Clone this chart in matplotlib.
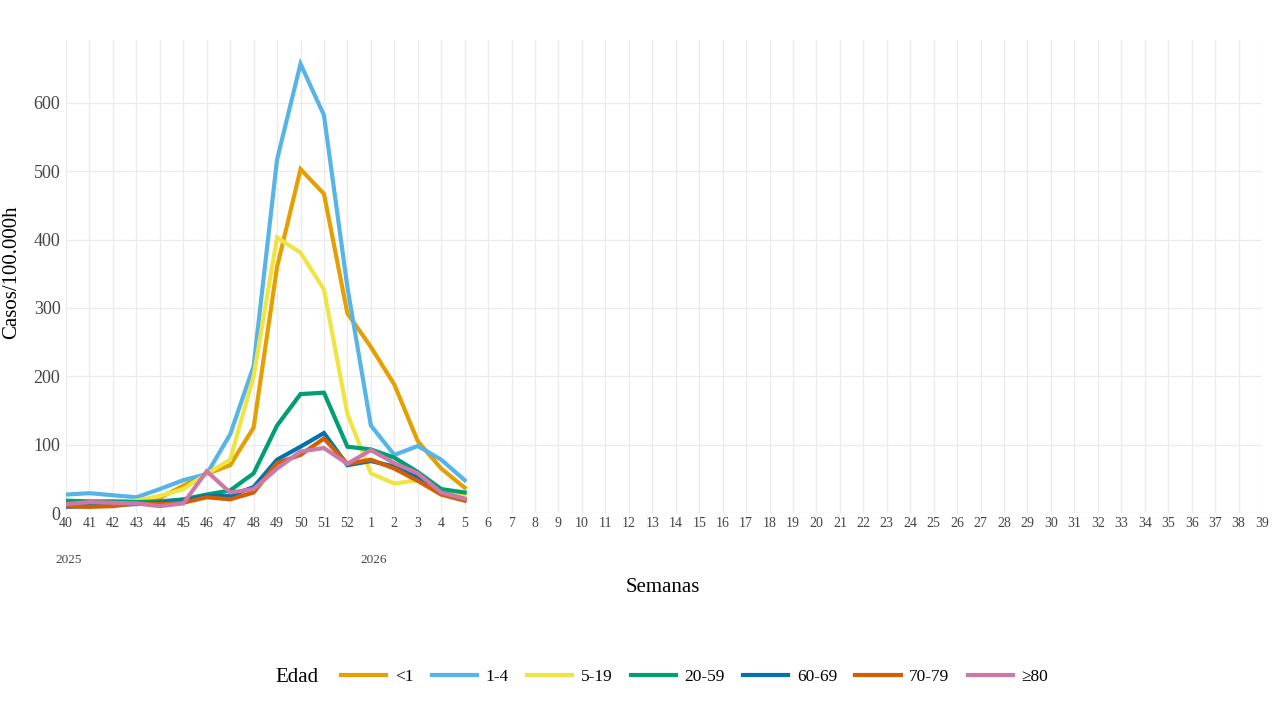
import numpy as np
import matplotlib
matplotlib.use("Agg")
import matplotlib.pyplot as plt
from matplotlib.lines import Line2D
import matplotlib.transforms as mtransforms

plt.rcParams['font.family'] = ['Liberation Serif', 'DejaVu Serif']

weeks = [str(w) for w in list(range(40, 53)) + list(range(1, 40))]
years = {"2025": 0, "2026": 13}

age_groups = ["<1", "1-4", "5-19", "20-59", "60-69", "70-79", "\u226580"]
colors = ["#E69F00", "#56B4E9", "#F0E442", "#009E73", "#0072B2", "#D55E00", "#CC79A7"]

s_lt1   = [15, 13, 15, 18, 22, 40, 57, 70, 125, 360, 503, 467, 292, 243, 188, 105, 65, 37]
s_1_4   = [27, 29, 26, 23, 35, 48, 57, 115, 215, 517, 657, 582, 330, 128, 85, 98, 78, 48]
s_5_19  = [15, 15, 17, 18, 25, 35, 57, 78, 200, 403, 381, 327, 145, 58, 43, 48, 35, 26]
s_20_59 = [18, 17, 17, 16, 17, 20, 27, 33, 58, 128, 174, 176, 97, 93, 81, 60, 35, 30]
s_60_69 = [9, 10, 12, 13, 15, 18, 25, 25, 38, 78, 97, 117, 70, 76, 68, 52, 30, 20]
s_70_79 = [10, 9, 10, 14, 13, 15, 23, 20, 30, 73, 85, 109, 72, 78, 65, 47, 27, 18]
s_80    = [13, 16, 15, 14, 10, 14, 61, 30, 35, 65, 90, 95, 72, 92, 73, 58, 30, 21]

series = [s_lt1, s_1_4, s_5_19, s_20_59, s_60_69, s_70_79, s_80]

fig = plt.figure(figsize=(12.8, 7.08), dpi=100)
ax = fig.add_axes([66/1280, 1-513/708, (1262-66)/1280, (513-40)/708])

x = np.arange(len(weeks))
for vals, c, lab in zip(series, colors, age_groups):
    ax.plot(x[:len(vals)], vals, color=c, lw=3, label=lab, solid_joinstyle='miter')

ax.set_xlim(0, len(weeks)-1)
ax.set_ylim(0, 692)
ax.set_xticks(x)
ax.set_xticklabels(weeks, fontsize=10, color="#444444")
ax.set_yticks([0, 100, 200, 300, 400, 500, 600])
ax.tick_params(axis='y', labelsize=13, labelcolor="#444444", length=0, pad=4)
ax.tick_params(axis='x', length=0, pad=3)
ax.grid(True, color="#ebebeb", lw=0.9)
ax.set_axisbelow(True)
for sp in ax.spines.values():
    sp.set_visible(False)

trans = mtransforms.blended_transform_factory(ax.transData, ax.transAxes)
for yr, pos in years.items():
    ax.text(pos + 0.1, -0.1, yr, transform=trans, fontsize=9.5, color="#444444",
            ha="center", va="center")

fig.text(663/1280, 1-587/708, "Semanas", fontsize=15, ha="center", va="center")
fig.text(12/1280, 1-272/708, "Casos/100.000h", fontsize=15, ha="center", va="center",
         rotation=90)

fig.text(297/1280, 1-677/708, "Edad", fontsize=15, ha="center", va="center")
handles = [Line2D([0], [0], color=c, lw=3) for c in colors]
fig.legend(handles, age_groups, loc="center left", bbox_to_anchor=(341/1280, 1-677/708),
           ncol=7, frameon=False, fontsize=12.5, handlelength=2.6, handletextpad=0.5,
           columnspacing=1.05, borderpad=0, borderaxespad=0)

fig.savefig("out.png", dpi=100, facecolor="white")
